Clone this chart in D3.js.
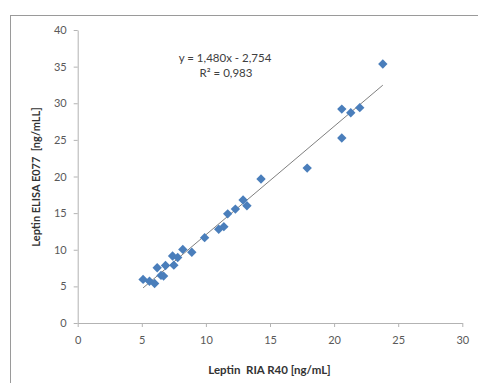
<!DOCTYPE html>
<html><head><meta charset="utf-8">
<script src="https://cdn.jsdelivr.net/npm/d3@7"></script>
<style>html,body{margin:0;padding:0;background:#fff;overflow:hidden}</style>
</head><body>
<svg id="c" width="478" height="383"></svg>
<script>
const xValues = [5.1,5.6,6.0,6.2,6.5,6.7,6.85,7.4,7.5,7.8,8.2,8.9,9.9,11.0,11.4,11.7,12.3,12.9,13.2,14.3,17.9,20.6,20.6,21.3,22.0,23.8];
const yValues = [5.95,5.7,5.4,7.55,6.5,6.4,7.85,9.15,7.9,8.95,10.05,9.65,11.65,12.8,13.15,14.9,15.55,16.8,16.0,19.65,21.15,29.2,25.25,28.7,29.4,35.35];
const xTicks = [0,5,10,15,20,25,30];
const yTicks = [0,5,10,15,20,25,30,35,40];
const slope = 1.480, intercept = -2.754;
const eqLabel = "y = 1,480x - 2,754";
const r2Label = "R² = 0,983";
const xTitle = "Leptin  RIA R40 [ng/mL]";
const yTitle = "Leptin ELISA E077  [ng/mLL]";

const svg = d3.select("#c");
const font = "Lato, 'Open Sans', sans-serif";
svg.append("rect").attr("x",10.5).attr("y",15.5).attr("width",480).attr("height",380)
  .attr("fill","#fff").attr("stroke","#9a9a9a").attr("stroke-width",1);

const x = d3.scaleLinear().domain([0,30]).range([77.7,462.3]);
const y = d3.scaleLinear().domain([0,40]).range([323,30]);

const gx = svg.append("g").attr("transform","translate(0,323)")
  .call(d3.axisBottom(x).tickValues(xTicks).tickSize(4).tickSizeOuter(0).tickPadding(9));
const gy = svg.append("g").attr("transform","translate(77.7,0)")
  .call(d3.axisLeft(y).tickValues(yTicks).tickSize(4).tickSizeOuter(0).tickPadding(7));
[gx,gy].forEach(g=>{
  g.selectAll("path,line").attr("stroke","#b3b3b3");
  g.selectAll("text").attr("fill","#595959").style("font-family",font).style("font-size","11px");
});

const data = xValues.map((v,i)=>({x:v,y:yValues[i]}));
const xmin = d3.min(xValues), xmax = d3.max(xValues);
svg.append("line")
  .attr("x1",x(xmin)).attr("y1",y(slope*xmin+intercept))
  .attr("x2",x(xmax)).attr("y2",y(slope*xmax+intercept))
  .attr("stroke","#7f7f7f").attr("stroke-width",1);

svg.append("g").selectAll("path").data(data).join("path")
  .attr("d",d3.symbol(d3.symbolSquare,44))
  .attr("transform",d=>`translate(${x(d.x)},${y(d.y)}) rotate(45)`)
  .attr("fill","#4a7ebb");

svg.append("text").attr("x",225).attr("y",62).attr("text-anchor","middle")
  .style("font-family",font).style("font-size","11.5px").attr("fill","#404040").text(eqLabel);
svg.append("text").attr("x",226).attr("y",77).attr("text-anchor","middle")
  .style("font-family",font).style("font-size","11.5px").attr("fill","#404040").text(r2Label);

svg.append("text").attr("x",269.5).attr("y",374).attr("text-anchor","middle")
  .style("white-space","pre")
  .style("font-family",font).style("font-size","11.5px").style("font-weight","bold").attr("fill","#333").text(xTitle);
svg.append("text").attr("transform","translate(40,177) rotate(-90)").attr("text-anchor","middle")
  .style("white-space","pre")
  .style("font-family",font).style("font-size","11px").style("font-weight","bold").attr("fill","#333").text(yTitle);
</script>
</body></html>
